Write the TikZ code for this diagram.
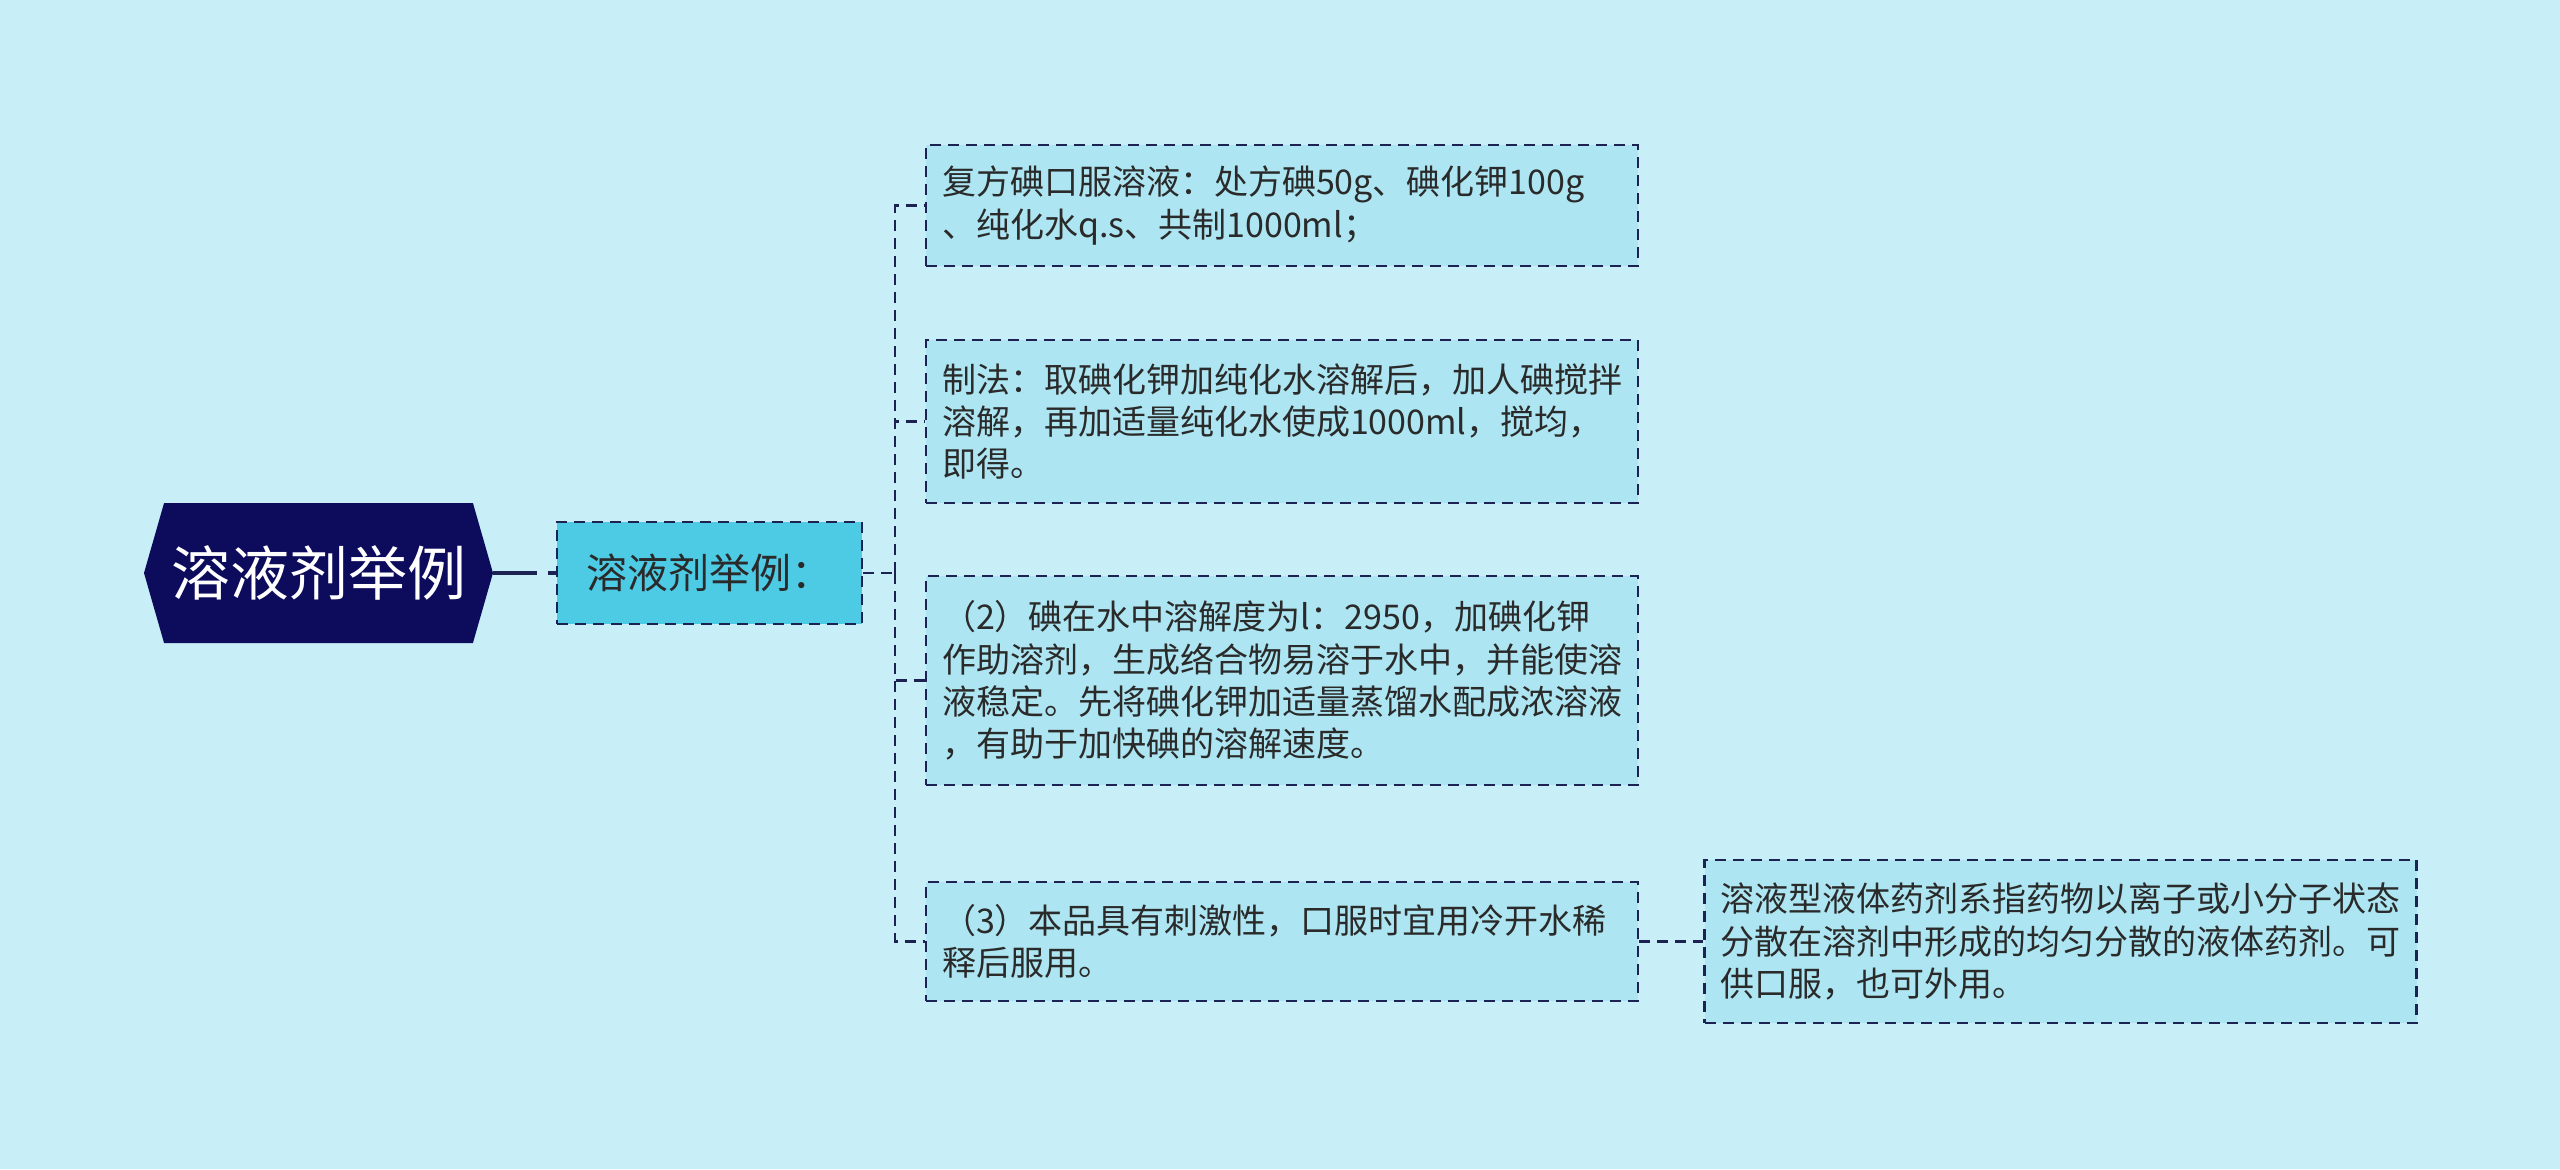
\documentclass[tikz,border=0pt]{standalone}
\usepackage{fontspec}
\newfontfamily\cjk{Noto Sans CJK SC}
\usetikzlibrary{positioning,shapes.symbols}

\definecolor{bgcol}{HTML}{C8EFF7}
\definecolor{leafcol}{HTML}{ADE6F2}
\definecolor{childcol}{HTML}{4DCAE4}
\definecolor{rootcol}{HTML}{0C0B5C}
\definecolor{linecol}{HTML}{1C2251}
\definecolor{textcol}{HTML}{2A2A2A}

\tikzset{
  link/.style={draw=linecol, line width=1.4pt, dash pattern=on 5.5pt off 3.5pt},
  leaf/.style={link, fill=leafcol, text=textcol, font=\cjk\fontsize{17}{21.2}\selectfont,
    text width=340pt, inner xsep=8pt, align=left, minimum width=356pt},
}

\begin{document}
\begin{tikzpicture}[x=0.5pt, y=-0.5pt]

  % background
  \fill[bgcol] (0, 0) rectangle (2560, 1169);
  \useasboundingbox (0, 0) rectangle (2560, 1169);

  % root and first child
  \node[shape=signal, signal to=west and east, signal pointer angle=148,
    fill=rootcol, text=white, font=\cjk\fontsize{29.5}{34}\selectfont,
    minimum width=174.5pt, minimum height=70pt, inner sep=0pt] (root) at (318.5, 573) {溶液剂举例};
  \node[link, fill=childcol, text=textcol, font=\cjk\fontsize{20.5}{24}\selectfont,
    minimum width=152.5pt, minimum height=51pt] (child) at (709.5, 573) {溶液剂举例：};

  % leaves
  \node[leaf, minimum height=60.5pt] (l1) at (1282, 205.5)
    {复方碘口服溶液：处方碘50g、碘化钾100g\\、纯化水q.s、共制1000ml；};
  \node[leaf, minimum height=81.5pt] (l2) at (1282, 421.5)
    {制法：取碘化钾加纯化水溶解后，加人碘搅拌\\溶解，再加适量纯化水使成1000ml，搅均，\\即得。};
  \node[leaf, minimum height=104.5pt] (l3) at (1282, 680.5)
    {（2）碘在水中溶解度为l：2950，加碘化钾\\作助溶剂，生成络合物易溶于水中，并能使溶\\液稳定。先将碘化钾加适量蒸馏水配成浓溶液\\，有助于加快碘的溶解速度。};
  \node[leaf, minimum height=59.5pt] (l4) at (1282, 941.5)
    {（3）本品具有刺激性，口服时宜用冷开水稀\\释后服用。};
  \node[leaf, minimum height=81.5pt, right=32pt of l4] (l5)
    {溶液型液体药剂系指药物以离子或小分子状态\\分散在溶剂中形成的均匀分散的液体药剂。可\\供口服，也可外用。};

  % connectors
  \coordinate (fork) at (895, 573);
  \draw[draw=linecol, line width=1.6pt, dash pattern=on 22pt off 5.5pt] (root.east) -- (child.west);
  \draw[link] (child.east) -- (fork);
  \foreach \n in {l1, l2, l3, l4}
    \draw[link] (fork) |- (\n.west);
  \draw[link] (l4.east) -- (l5.west);

\end{tikzpicture}
\end{document}
